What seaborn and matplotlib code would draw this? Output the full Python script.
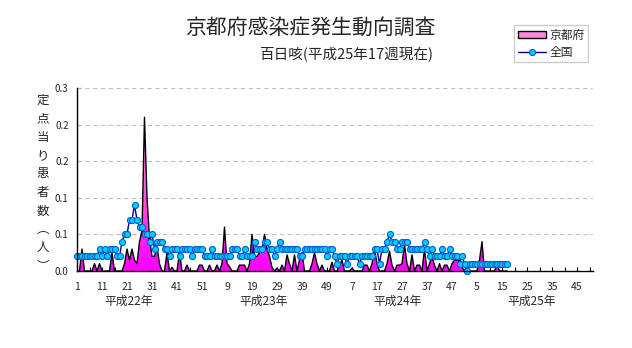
import numpy as np
import pandas as pd
import matplotlib
matplotlib.use("Agg")
import matplotlib.pyplot as plt
import seaborn as sns
from matplotlib.colors import LinearSegmentedColormap
from matplotlib.patches import Patch
from matplotlib.lines import Line2D

# ---- data -------------------------------------------------------------
years = ["平成22年", "平成23年", "平成24年", "平成25年"]
weeks_per_year = [52, 52, 52, 52]

# Kyoto prefecture: reports per sentinel site, by week
kyoto_h22 = [0, 0, 0.03, 0, 0, 0, 0, 0.01, 0, 0.01, 0, 0, 0, 0, 0.025, 0, 0, 0,
             0, 0.01, 0.03, 0.015, 0.03, 0.015, 0.01, 0.04, 0.055, 0.21, 0.10,
             0.045, 0.02, 0.02, 0.033, 0.01, 0, 0, 0.025, 0, 0.005, 0, 0, 0.025,
             0, 0, 0.008, 0, 0, 0, 0, 0.008, 0.008, 0]
kyoto_h23 = [0, 0.008, 0, 0, 0.008, 0, 0.01, 0.06, 0.01, 0.006, 0, 0, 0, 0.008,
             0.008, 0.008, 0, 0.01, 0.05, 0.02, 0.02, 0.025, 0.03, 0.05, 0.03,
             0.02, 0.005, 0, 0.004, 0, 0.008, 0, 0.022, 0.01, 0, 0.022, 0, 0.015,
             0.025, 0, 0, 0, 0.01, 0.025, 0.01, 0, 0.008, 0, 0, 0, 0.012, 0]
kyoto_h24 = [0, 0.008, 0.015, 0, 0, 0, 0.004, 0, 0, 0, 0, 0.008, 0.008, 0, 0.01,
             0.03, 0.01, 0, 0, 0, 0.01, 0.027, 0.008, 0, 0.008, 0.008, 0.01,
             0.036, 0.01, 0, 0.022, 0, 0.008, 0.008, 0, 0.03, 0, 0.01, 0.02,
             0.008, 0, 0.01, 0, 0.008, 0.008, 0, 0.01, 0.015, 0.015, 0.015,
             0.005, 0]
kyoto_h25 = [0.008, 0, 0, 0, 0, 0.015, 0.04, 0, 0, 0, 0, 0, 0.008, 0, 0, 0, 0]

# Whole country: reports per sentinel site, by week
national_h22 = [0.02, 0.02, 0.02, 0.02, 0.02, 0.02, 0.02, 0.02, 0.02, 0.03, 0.02,
                0.03, 0.02, 0.03, 0.03, 0.03, 0.02, 0.02, 0.04, 0.05, 0.05, 0.07,
                0.07, 0.09, 0.07, 0.06, 0.06, 0.05, 0.05, 0.04, 0.05, 0.03, 0.04,
                0.04, 0.04, 0.03, 0.03, 0.02, 0.03, 0.03, 0.03, 0.02, 0.03, 0.03,
                0.03, 0.03, 0.02, 0.03, 0.03, 0.03, 0.03, 0.02]
national_h23 = [0.02, 0.02, 0.03, 0.02, 0.02, 0.02, 0.02, 0.02, 0.02, 0.02, 0.03,
                0.03, 0.03, 0.02, 0.02, 0.03, 0.02, 0.02, 0.02, 0.04, 0.03, 0.03,
                0.03, 0.04, 0.04, 0.03, 0.03, 0.02, 0.03, 0.04, 0.03, 0.03, 0.03,
                0.03, 0.03, 0.03, 0.03, 0.02, 0.02, 0.03, 0.03, 0.03, 0.03, 0.03,
                0.03, 0.03, 0.03, 0.03, 0.02, 0.03, 0.03, 0.02]
national_h24 = [0.01, 0.02, 0.02, 0.02, 0.01, 0.02, 0.02, 0.02, 0.02, 0.01, 0.02,
                0.02, 0.02, 0.02, 0.02, 0.03, 0.03, 0.01, 0.03, 0.03, 0.04, 0.05,
                0.04, 0.04, 0.03, 0.03, 0.04, 0.04, 0.04, 0.03, 0.03, 0.03, 0.03,
                0.03, 0.03, 0.04, 0.03, 0.02, 0.03, 0.02, 0.02, 0.02, 0.03, 0.02,
                0.02, 0.03, 0.02, 0.02, 0.02, 0.01, 0.02, 0.01]
national_h25 = [0.00, 0.01, 0.01, 0.01, 0.01, 0.01, 0.01, 0.01, 0.01, 0.01, 0.01,
                0.01, 0.01, 0.01, 0.01, 0.01, 0.01]

y_ticks = [0, 0.05, 0.10, 0.15, 0.20, 0.25]
y_tick_labels = ["0.0", "0.1", "0.1", "0.2", "0.2", "0.3"]

series_label_kyoto = "京都府"
series_label_national = "全国"
title = "京都府感染症発生動向調査"
subtitle = "百日咳(平成25年17週現在)"
y_label = "定点当り患者数︵人︶"

# ---- assemble ---------------------------------------------------------
kyoto = kyoto_h22 + kyoto_h23 + kyoto_h24 + kyoto_h25
national = national_h22 + national_h23 + national_h24 + national_h25
df = pd.DataFrame({"idx": np.arange(len(kyoto)), "kyoto": kyoto,
                   "national": national})

total_weeks = sum(weeks_per_year)
week_of = []
for n in weeks_per_year:
    week_of += list(range(1, n + 1))

sns.set_theme(style="white")
plt.rcParams["font.family"] = ["Noto Sans CJK JP", "DejaVu Sans"]

W, H = 632, 348
fig = plt.figure(figsize=(W / 100, H / 100), dpi=100)
L, R, T, B = 77, 593, 88, 271
ax = fig.add_axes([L / W, 1 - B / H, (R - L) / W, (B - T) / H])
x_max = (R - L) / 2.5

# gridlines
for yv in y_ticks[1:]:
    ax.axhline(yv, color="#c0c0c0", lw=0.8, ls=(0, (4, 3)), zorder=1)

# Kyoto: gradient filled area with black outline
poly = ax.fill_between(df["idx"], 0, df["kyoto"], color="none", lw=0)
cmap = LinearSegmentedColormap.from_list("pk", ["#ff00ff", "#ff66e0", "#ffa8e4"])
grad = np.linspace(0, 1, 256).reshape(-1, 1)
im = ax.imshow(grad, extent=[0, x_max, 0, 0.25], origin="lower", cmap=cmap,
               aspect="auto", zorder=2, interpolation="bilinear")
im.set_clip_path(poly.get_paths()[0], ax.transData)
sns.lineplot(data=df, x="idx", y="kyoto", ax=ax, color="black", lw=1.0,
             zorder=3, legend=False)

# whole country: line with markers
sns.lineplot(data=df, x="idx", y="national", ax=ax, color="#000080", lw=1.0,
             marker="o", markersize=4.4, markerfacecolor="#00ccff",
             markeredgecolor="#0060d0", markeredgewidth=0.8, zorder=4,
             clip_on=False, legend=False)
ax.set_xlim(0, x_max)
ax.set_ylim(0, 0.25)

# axes styling
for side in ["top", "right"]:
    ax.spines[side].set_visible(False)
for side in ["left", "bottom"]:
    ax.spines[side].set_color("black")
    ax.spines[side].set_linewidth(1.0)
    ax.spines[side].set_zorder(5)

ax.set_yticks(y_ticks)
ax.set_yticklabels(y_tick_labels, fontsize=7)
major = list(range(0, total_weeks, 10))
ax.set_xticks(major)
ax.set_xticklabels([str(week_of[i]) for i in major], fontsize=7.5)
ax.set_xticks(list(range(0, int(x_max) + 1, 5)), minor=True)
ax.tick_params(axis="both", direction="in", length=3, width=0.8,
               color="black", left=True, bottom=True)
ax.tick_params(axis="x", which="minor", direction="in", length=3, width=0.8,
               color="black", bottom=True)
ax.tick_params(axis="x", pad=8)
ax.tick_params(axis="y", pad=6)
ax.set_xlabel("")
ax.set_ylabel("")

# year captions under the week numbers
for k, yr in enumerate(years):
    xpix = 129 + 134.3 * k
    fig.text(xpix / W, 1 - 301 / H, yr, fontsize=8.5, ha="center", va="center")

# vertical y-axis caption, one character per line
for n, ch in enumerate(y_label):
    fig.text(43 / W, 1 - (100 + 18.5 * n) / H, ch, fontsize=9,
             ha="center", va="center")

# titles
fig.text(310 / W, 1 - 28 / H, title, fontsize=15, ha="center", va="center")
fig.text(433 / W, 1 - 55 / H, subtitle, fontsize=10.5, ha="right", va="center")

# legend
handles = [Patch(facecolor="#ff88dd", edgecolor="black", lw=1.0),
           Line2D([0], [0], color="#000080", lw=1.0, marker="o", markersize=4.4,
                  markerfacecolor="#00ccff", markeredgecolor="#0060d0",
                  markeredgewidth=0.8)]
leg = fig.legend(handles, [series_label_kyoto, series_label_national],
                 loc="upper left", bbox_to_anchor=(514 / W, 1 - 25 / H),
                 frameon=True, fancybox=False, edgecolor="#c0c0c0",
                 fontsize=8.5, handlelength=2.4, handleheight=0.6,
                 borderpad=0.3, labelspacing=0.35, handletextpad=0.3,
                 borderaxespad=0)
leg.get_frame().set_linewidth(1.0)

fig.savefig("out.png", dpi=100, facecolor="white")
